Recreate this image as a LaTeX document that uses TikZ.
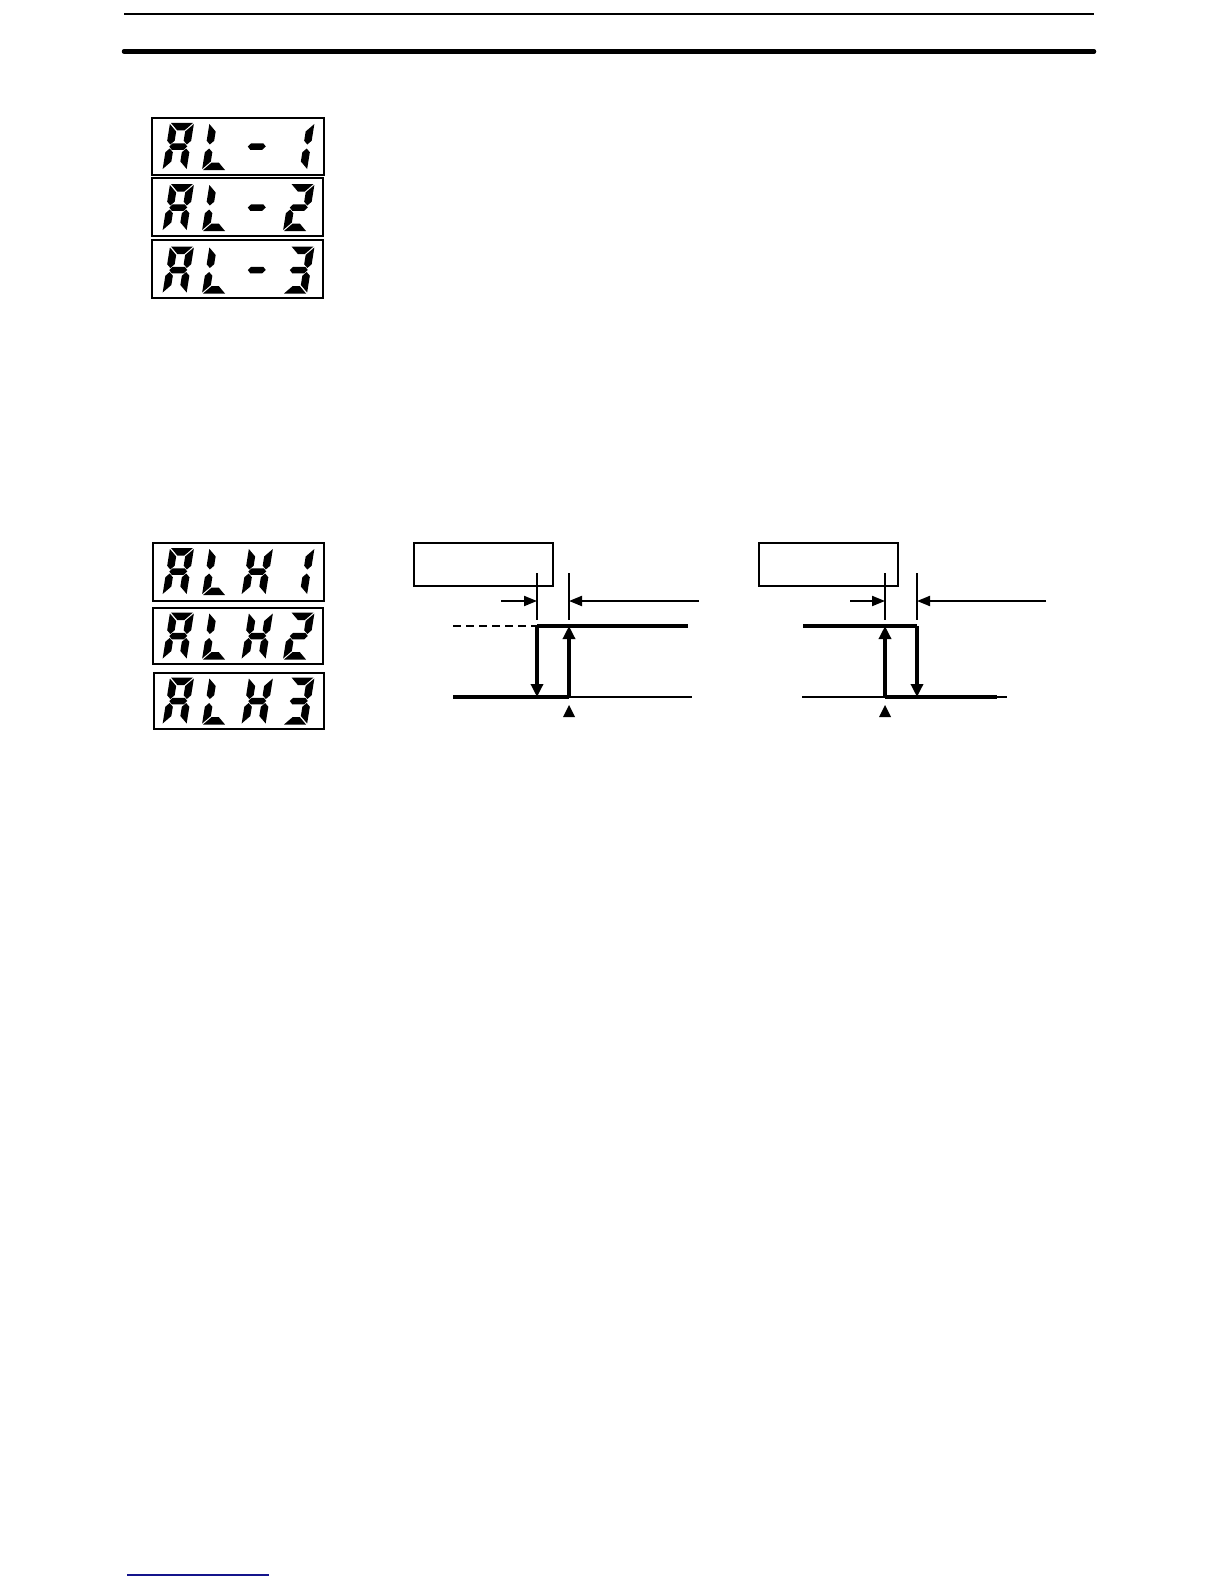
\documentclass[tikz,border=0pt]{standalone}
\usetikzlibrary{arrows.meta}
\newcommand\zsega{\fill (1,47)--(23,47)--(15.5,39.5)--(8.5,39.5)--cycle;}
\newcommand\zsegd{\fill (1,0)--(23,0)--(15.5,7.5)--(8.5,7.5)--cycle;}
\newcommand\zsegg{\fill (3,23.5)--(6,26.75)--(18,26.75)--(21,23.5)--(18,20.25)--(6,20.25)--cycle;}
\newcommand\zsegf{\fill (0,46)--(7.5,38.5)--(7.5,29.25)--(3.75,25.5)--(0,29.25)--cycle;}
\newcommand\zsege{\fill (0,1)--(7.5,8.5)--(7.5,17.75)--(3.75,21.5)--(0,17.75)--cycle;}
\newcommand\zsegb{\fill (24,46)--(16.5,38.5)--(16.5,29.25)--(20.25,25.5)--(24,29.25)--cycle;}
\newcommand\zsegc{\fill (24,1)--(16.5,8.5)--(16.5,17.75)--(20.25,21.5)--(24,17.75)--cycle;}
\newcommand\sdig[3]{\begin{scope}[shift={(#1,#2)},x=0.5pt,y=0.5pt,xslant=0.16]\foreach \s in {#3}{\csname zseg\s\endcsname}\end{scope}}
\newcommand\dispAL[2]{% baseline, last digit segments
  \sdig{162.5}{#1}{a,b,c,e,f,g}\sdig{202}{#1}{d,e,f}\sdig{241}{#1}{g}\sdig{283}{#1}{#2}}
\newcommand\dispALH[2]{%
  \sdig{162.5}{#1}{a,b,c,e,f,g}\sdig{202}{#1}{d,e,f}\sdig{241.5}{#1}{b,c,e,f,g}\sdig{283}{#1}{#2}}
\begin{document}
\begin{tikzpicture}[x=0.5pt,y=-0.5pt,
  dispbox/.style={draw,line width=1pt,inner sep=0pt},
  labbox/.style={draw,line width=1pt,inner sep=0pt,minimum width=69.5pt,minimum height=21.5pt},
  thinln/.style={line width=1pt},
  dimln/.style={line width=0.75pt},
  thickln/.style={line width=1.75pt},
  dimarr/.style={-{Triangle[length=6.5pt,width=5pt]},line width=1pt},
  bigarr/.style={-{Triangle[length=6.5pt,width=6pt]},line width=1.75pt}]
\useasboundingbox (0,0) rectangle (1224,1584);
% header rules
\coordinate (r1a) at (124,14); \coordinate (r1b) at (1094,14);
\coordinate (r2a) at (124,51.5); \coordinate (r2b) at (1094,51.5);
\draw[line width=1pt] (r1a) -- (r1b);
\draw[line width=2.25pt,line cap=round] (r2a) -- (r2b);
% AL displays
\node[dispbox,minimum width=86pt,minimum height=28.5pt] (al1) at (238,146.5) {};
\node[dispbox,minimum width=85.5pt,minimum height=29pt] (al2) at (237.5,207) {};
\node[dispbox,minimum width=85.5pt,minimum height=29pt] (al3) at (237,269) {};
\dispAL{170}{b,c}
\dispAL{231}{a,b,g,e,d}
\dispAL{293.5}{a,b,g,c,d}
% ALH displays
\node[dispbox,minimum width=85.5pt,minimum height=29pt] (alh1) at (238,572) {};
\node[dispbox,minimum width=85pt,minimum height=28pt] (alh2) at (238,636) {};
\node[dispbox,minimum width=85pt,minimum height=28pt] (alh3) at (239,701) {};
\dispALH{595}{b,c}
\dispALH{659.5}{a,b,g,e,d}
\dispALH{724.5}{a,b,g,c,d}
% left hysteresis diagram
\node[labbox] (hb1) at (483.5,564.5) {};
\coordinate (l1t) at (537,573); \coordinate (l1b) at (537,620);
\coordinate (l2t) at (569,573); \coordinate (l2b) at (569,620);
\draw[dimln] (l1t) -- (l1b);
\draw[dimln] (l2t) -- (l2b);
\coordinate (ldl) at (501,601); \coordinate (ldl2) at (537,601);
\coordinate (ldr) at (699,601); \coordinate (ldr2) at (569,601);
\draw[dimarr] (ldl) -- (ldl2);
\draw[dimarr] (ldr) -- (ldr2);
\coordinate (lda) at (453,626); \coordinate (lon) at (537,626); \coordinate (lhi) at (688,626);
\coordinate (lup) at (569,626);
\draw[thinln,dashed,dash pattern=on 4pt off 2.5pt] (lda) -- (lon);
\draw[thickln] (lon) -- (lhi);
\coordinate (lax0) at (453,697); \coordinate (lax1) at (692,697);
\coordinate (ldn) at (537,697); \coordinate (lbt) at (569,697);
\draw[thinln] (lax0) -- (lax1);
\draw[thickln] (lax0) -- (lbt);
\draw[bigarr] (lon) -- (ldn);
\draw[bigarr] (lbt) -- (lup);
\fill (563,717) -- (569,705) -- (575,717) -- cycle;
% right hysteresis diagram
\node[labbox] (hb2) at (828.5,564.5) {};
\coordinate (r1t) at (885,573); \coordinate (r1bb) at (885,620);
\coordinate (r2t) at (917,573); \coordinate (r2bb) at (917,620);
\draw[dimln] (r1t) -- (r1bb);
\draw[dimln] (r2t) -- (r2bb);
\coordinate (rdl) at (850,601); \coordinate (rdl2) at (885,601);
\coordinate (rdr) at (1046,601); \coordinate (rdr2) at (917,601);
\draw[dimarr] (rdl) -- (rdl2);
\draw[dimarr] (rdr) -- (rdr2);
\coordinate (rh0) at (803,626); \coordinate (rh1) at (917,626); \coordinate (rup) at (885,626);
\draw[thickln] (rh0) -- (rh1);
\coordinate (rax0) at (802,697); \coordinate (rax1) at (1007,697);
\coordinate (rbt) at (885,697); \coordinate (rdn) at (917,697); \coordinate (rlo) at (997,697);
\draw[thinln] (rax0) -- (rax1);
\draw[thickln] (rbt) -- (rlo);
\draw[bigarr] (rh1) -- (rdn);
\draw[bigarr] (rbt) -- (rup);
\fill (879,717) -- (885,705) -- (891,717) -- cycle;
% footer link rule
\definecolor{linkblue}{RGB}{20,20,140}
\coordinate (fa) at (127,1575); \coordinate (fb) at (269,1575);
\draw[linkblue,line width=0.75pt] (fa) -- (fb);
\end{tikzpicture}
\end{document}
